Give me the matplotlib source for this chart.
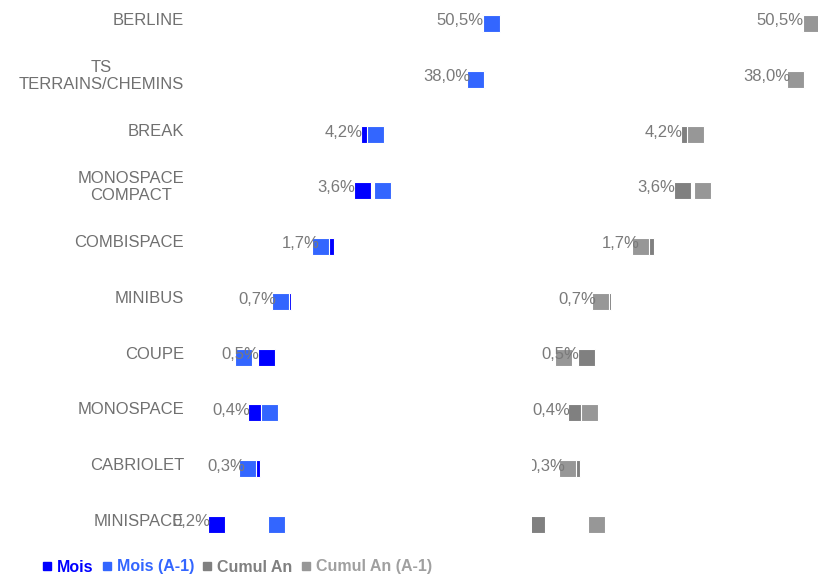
import matplotlib
matplotlib.use("Agg")
import matplotlib.pyplot as plt
import matplotlib.transforms as mtransforms
from matplotlib.lines import Line2D

plt.rcParams['font.family'] = ['Liberation Sans', 'DejaVu Sans']

# Données (parts en %)
categories = ["BERLINE", "TS\nTERRAINS/CHEMINS", "BREAK", "MONOSPACE\nCOMPACT",
              "COMBISPACE", "MINIBUS", "COUPE", "MONOSPACE", "CABRIOLET", "MINISPACE"]
etiquettes = ["50,5%", "38,0%", "4,2%", "3,6%", "1,7%", "0,7%", "0,5%", "0,4%", "0,3%", "0,2%"]
mois = [50.5, 38.0, 4.2, 3.6, 1.7, 0.7, 0.5, 0.41, 0.37, 0.18]
mois_a1 = [51.7, 37.2, 4.75, 5.5, 1.53, 0.67, 0.31, 0.53, 0.34, 0.62]
cumul = [50.5, 38.0, 4.2, 3.6, 1.7, 0.7, 0.5, 0.41, 0.37, 0.18]
cumul_a1 = [51.7, 37.2, 4.75, 5.5, 1.53, 0.67, 0.31, 0.53, 0.34, 0.62]

BLEU = '#0000FF'
BLEU_CLAIR = '#3366FF'
GRIS = '#808080'
GRIS_CLAIR = '#979797'
TEXTE = '#7a7a7a'

fig = plt.figure(figsize=(8.18, 5.75), dpi=100)
ax_mois = fig.add_axes([212 / 818, 23.5 / 575, 286 / 818, 551.5 / 575])
ax_cumul = fig.add_axes([532 / 818, 23.5 / 575, 286 / 818, 551.5 / 575])

RATIO = 1.419   # largeur fixe des carrés sur l'échelle log
HAUTEUR = 0.305
y = list(range(len(categories)))


def dessiner(ax, valeurs, valeurs_a1, c1, c2, coupe):
    ax.set_xscale('log')
    ax.barh(y, [v * (RATIO - 1) for v in valeurs], left=valeurs, height=HAUTEUR,
            color=c1, edgecolor='white', linewidth=0.8, clip_on=coupe)
    ax.barh(y, [v * (RATIO - 1) for v in valeurs_a1], left=valeurs_a1, height=HAUTEUR,
            color=c2, edgecolor='white', linewidth=0.8, clip_on=coupe)
    decale = mtransforms.offset_copy(ax.transData, fig=fig, x=2, y=0, units='dots')
    for i, v in enumerate(valeurs):
        ax.text(v, i - 0.045, etiquettes[i], ha='right', va='center', fontsize=12,
                color=TEXTE, zorder=5, clip_on=coupe, transform=decale)
    ax.set_xlim(0.1949, 70.47)
    ax.set_ylim(9.49, -0.422)
    ax.axis('off')


dessiner(ax_mois, mois, mois_a1, BLEU, BLEU_CLAIR, False)
dessiner(ax_cumul, cumul, cumul_a1, GRIS, GRIS_CLAIR, True)

# Libellés des catégories
for i, cat in enumerate(categories):
    ax_mois.text(-0.098, i - 0.055, cat, transform=ax_mois.get_yaxis_transform(),
                 ha='right', va='center', multialignment='center', fontsize=12,
                 color='#707070', linespacing=1.15)

# Légende
poignees = [Line2D([], [], marker='s', linestyle='none', markersize=5.5, color=c)
            for c in [BLEU, BLEU_CLAIR, GRIS, GRIS_CLAIR]]
noms = ["Mois", "Mois (A-1)", "Cumul An", "Cumul An (A-1)"]
leg = fig.legend(poignees, noms, loc='center left', bbox_to_anchor=(43 / 818, 1 - 567 / 575),
                 ncol=4, frameon=False, handlelength=0.45, handletextpad=0.4,
                 columnspacing=0.62, borderpad=0, borderaxespad=0,
                 prop={'weight': 'bold', 'size': 11.5},
                 labelcolor=[BLEU, BLEU_CLAIR, GRIS, '#a0a0a0'])

fig.savefig("out.png", dpi=100)
